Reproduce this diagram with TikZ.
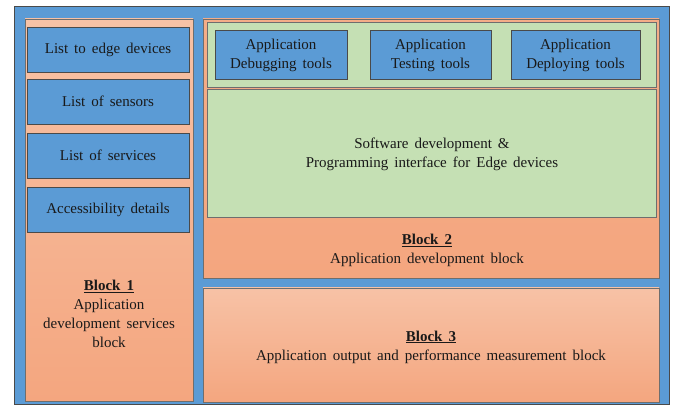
\documentclass[tikz,border=0pt]{standalone}
\usepackage{fontspec}
\setmainfont{Liberation Serif}
\definecolor{bblue}{HTML}{5B9BD5}
\definecolor{salL}{HTML}{F7C2A6}
\definecolor{salD}{HTML}{F4A67F}
\definecolor{sal}{HTML}{F4AD88}
\definecolor{grn}{HTML}{C5E0B4}
\definecolor{edge}{HTML}{4A4A4A}
\newcommand\widespc{\spaceskip=6pt plus 2pt minus 1pt\relax}
\tikzset{
  px/.style={x=1pt,y=-1pt},
  outerbox/.style={fill=bblue,draw=edge,line width=0.8pt},
  blockbox/.style={top color=salL,bottom color=salD,draw=edge!80,line width=0.6pt},
  greenbox/.style={fill=grn,draw=edge!80,line width=0.6pt},
  itembox/.style={fill=bblue,draw=edge,line width=0.8pt},
  lbl/.style={font=\fontsize{15}{19}\selectfont,execute at begin node=\widespc,align=center,text=black!90,inner sep=0pt},
}
\begin{document}
\begin{tikzpicture}[px]
\useasboundingbox (0,0) rectangle (673,406);
\fill[white] (0,0) rectangle (673,406);
% outer
\path[outerbox] (14,6) rectangle (669,404);
% block 1
\path[blockbox] (25,19) rectangle (193,401);
\path[itembox] (27,27) rectangle (189,72);
\path[itembox] (27,79) rectangle (189,124);
\path[itembox] (27,133) rectangle (189,178);
\path[itembox] (27,187) rectangle (189,232);
\node[lbl] (i1) at (108,49.5) {List to edge devices};
\node[lbl] (i2) at (108,101.5) {List of sensors};
\node[lbl] (i3) at (108,155.5) {List of services};
\node[lbl] (i4) at (108,209.5) {Accessibility details};
\node[lbl] (b1) at (109,314) {\underline{\textbf{Block 1}}\\Application\\development services\\block};
% block 2
\path[top color=sal,bottom color=salD,draw=edge!80,line width=0.6pt] (203,19) rectangle (659,278);
\path[greenbox] (207,22) rectangle (656,87);
\path[greenbox] (207,89) rectangle (656,217);
\path[itembox] (215,30) rectangle (347,79);
\path[itembox] (370,30) rectangle (491,79);
\path[itembox] (511,30) rectangle (640,79);
\node[lbl] (t1) at (281,55.5) {Application\\Debugging tools};
\node[lbl] (t2) at (430.5,55.5) {Application\\Testing tools};
\node[lbl] (t3) at (575.5,55.5) {Application\\Deploying tools};
\node[lbl] (sw) at (432,154.5) {Software development \&\\Programming interface for Edge devices};
\node[lbl] (b2) at (427,250.5) {\underline{\textbf{Block 2}}\\Application development block};
% block 3
\path[blockbox] (203,288) rectangle (659,402);
\node[lbl] (b3) at (431,347) {\underline{\textbf{Block 3}}\\Application output and performance measurement block};
\end{tikzpicture}
\end{document}
